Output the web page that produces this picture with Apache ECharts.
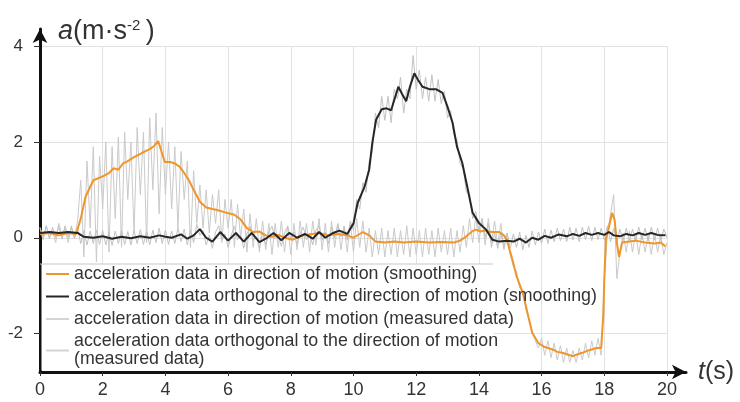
<!DOCTYPE html>
<html>
<head>
<meta charset="utf-8">
<script src="https://cdn.jsdelivr.net/npm/echarts@6/dist/echarts.min.js"></script>
<style>html,body{margin:0;padding:0;background:#fff}#c{width:740px;height:402px}</style>
</head>
<body>
<div id="c"></div>
<script>
// ---- data ----
const seriesNames = [
  'acceleration data in direction of motion (smoothing)',
  'acceleration data orthogonal to the direction of motion (smoothing)',
  'acceleration data in direction of motion (measured data)',
  'acceleration data orthogonal to the direction of motion (measured data)'
];
const xTicks = [0, 2, 4, 6, 8, 10, 12, 14, 16, 18, 20];
const yTicks = [-2, 0, 2, 4];
const sampleStep = 0.1; // measured data sampled every 0.1 s from t = 0

const measuredMotion = [
  0.2,-0.05,0.25,0.0,0.15,-0.1,0.3,0.05,0.2,-0.1,
  0.25,0.0,0.35,1.2,-0.4,1.6,0.2,1.9,-0.5,1.7,
  0.6,2.0,-0.3,1.9,0.4,2.1,-0.2,2.2,0.8,2.0,
  0.1,2.3,0.9,2.2,-0.1,2.5,1.0,2.6,0.5,2.3,
  0.9,2.0,0.6,1.9,0.2,1.8,0.8,1.6,-0.2,1.4,
  0.3,1.1,0.2,1.0,0.1,0.9,0.3,1.0,-0.1,0.8,
  0.2,0.8,-0.2,0.7,0.0,0.6,-0.3,0.5,-0.2,0.4,
  -0.3,0.35,-0.25,0.3,-0.35,0.3,-0.2,0.35,-0.3,0.25,
  -0.35,0.3,-0.25,0.35,-0.2,0.3,-0.3,0.35,-0.15,0.4,
  -0.25,0.3,-0.3,0.35,-0.2,0.3,-0.25,0.25,-0.3,0.3,
  -0.3,0.4,-0.2,0.35,-0.3,0.2,-0.4,0.15,-0.35,0.2,
  -0.4,0.15,-0.35,0.2,-0.4,0.15,-0.35,0.25,-0.4,0.2,
  -0.35,0.15,-0.4,0.2,-0.35,0.15,-0.4,0.2,-0.3,0.15,
  -0.35,0.2,-0.4,0.15,-0.3,0.25,-0.2,0.4,-0.1,0.45,
  -0.1,0.4,-0.15,0.4,-0.1,0.35,-0.15,0.3,-0.25,0.1,
  -0.35,-0.6,-0.7,-1.05,-1.1,-1.5,-1.7,-1.95,-2.15,-2.3,
  -2.1,-2.45,-2.15,-2.5,-2.2,-2.55,-2.25,-2.6,-2.3,-2.6,
  -2.35,-2.6,-2.3,-2.55,-2.2,-2.5,-2.15,-2.45,-2.1,-2.45,
  -0.9,0.1,0.5,0.9,-0.85,-0.3,0.1,-0.3,0.15,-0.3,
  0.1,-0.35,0.1,-0.3,0.05,-0.35,0.1,-0.3,0.05,-0.35,
  -0.1
];

const measuredOrtho = [
  0.22,0.0,0.25,-0.02,0.22,0.0,0.24,-0.03,0.25,0.0,
  0.22,-0.02,0.2,-0.12,0.15,-0.15,0.14,-0.12,0.16,-0.14,
  0.15,-0.15,0.12,-0.16,0.14,-0.12,0.16,-0.14,0.13,-0.15,
  0.15,-0.12,0.17,-0.14,0.14,-0.15,0.16,-0.1,0.2,-0.12,
  0.16,-0.14,0.14,-0.12,0.2,-0.08,0.18,-0.15,0.17,-0.1,
  0.28,0.05,0.15,-0.15,0.05,-0.22,0.12,0.25,-0.05,0.08,
  -0.2,0.05,0.24,-0.04,0.05,-0.22,0.08,0.24,-0.05,0.02,
  -0.22,0.1,-0.15,0.12,0.24,-0.02,0.05,-0.18,0.1,0.24,
  -0.02,0.12,-0.14,0.1,0.22,-0.04,0.1,-0.15,0.15,0.25,
  -0.05,0.12,-0.12,0.22,0.0,0.28,0.02,0.22,-0.05,0.35,
  0.15,0.8,0.6,1.15,0.95,1.6,1.8,2.6,2.3,2.95,
  2.45,2.95,2.4,3.1,2.9,3.35,2.6,3.1,2.9,3.8,
  3.1,3.5,2.9,3.35,2.85,3.4,2.85,3.3,2.8,3.05,
  2.5,2.65,2.15,2.05,1.55,1.45,0.95,0.9,0.4,0.55,
  0.15,0.4,0.0,0.3,-0.2,0.1,-0.22,0.08,-0.2,0.1,
  -0.22,0.08,-0.2,0.12,-0.25,0.05,-0.2,0.14,-0.15,0.12,
  -0.12,0.18,-0.12,0.16,-0.08,0.2,-0.06,0.18,-0.08,0.22,
  -0.05,0.2,-0.08,0.22,-0.04,0.24,-0.06,0.22,-0.04,0.2,
  -0.05,0.25,-0.08,0.2,-0.1,0.18,-0.08,0.2,-0.06,0.18,
  -0.05,0.22,-0.04,0.2,-0.06,0.22,-0.05,0.2,-0.06,0.18,
  0.0
];

const smoothMotion = [
  [0,0.08],[0.3,0.1],[0.6,0.05],[0.9,0.1],[1.15,0.08],[1.3,0.4],[1.45,0.85],[1.7,1.2],
  [2.0,1.28],[2.2,1.35],[2.35,1.45],[2.5,1.42],[2.65,1.55],[2.8,1.6],[3.0,1.68],[3.2,1.75],
  [3.35,1.8],[3.5,1.85],[3.65,1.92],[3.77,2.02],[3.85,1.85],[3.98,1.58],[4.15,1.58],[4.3,1.55],
  [4.46,1.48],[4.6,1.35],[4.75,1.2],[4.9,1.0],[5.1,0.75],[5.3,0.63],[5.5,0.6],[5.65,0.58],
  [5.95,0.52],[6.2,0.48],[6.4,0.38],[6.6,0.2],[6.8,0.12],[7.0,0.13],[7.2,0.05],[7.4,0.02],
  [7.6,0.06],[7.8,0.0],[8.06,-0.04],[8.3,0.03],[8.5,0.06],[8.7,0.08],[8.9,0.1],[9.2,0.05],
  [9.5,0.08],[9.8,0.05],[10.0,0.0],[10.3,0.12],[10.5,0.05],[10.7,-0.08],[11.0,-0.1],[11.3,-0.08],
  [11.6,-0.1],[12.0,-0.08],[12.4,-0.1],[12.8,-0.09],[13.2,-0.1],[13.4,-0.06],[13.6,0.03],[13.8,0.14],
  [13.9,0.17],[14.05,0.13],[14.2,0.15],[14.4,0.12],[14.65,0.12],[14.8,0.05],[14.9,-0.06],[15.0,-0.3],
  [15.07,-0.46],[15.2,-0.8],[15.4,-1.15],[15.55,-1.57],[15.7,-1.98],[15.9,-2.2],[16.1,-2.28],[16.35,-2.33],
  [16.5,-2.38],[16.66,-2.4],[16.85,-2.44],[17.0,-2.47],[17.15,-2.43],[17.3,-2.4],[17.45,-2.36],[17.6,-2.33],
  [17.75,-2.3],[17.9,-2.3],[17.97,-1.6],[18.0,-0.87],[18.05,-0.04],[18.15,0.23],[18.25,0.52],[18.33,0.37],
  [18.4,-0.1],[18.47,-0.4],[18.57,-0.1],[18.8,-0.08],[19.0,-0.06],[19.3,-0.1],[19.6,-0.12],[19.8,-0.1],
  [19.95,-0.18]
];

const smoothOrtho = [
  [0,0.1],[0.3,0.12],[0.6,0.1],[0.9,0.12],[1.2,0.1],[1.4,0.02],[1.7,0.0],[2.0,0.03],
  [2.3,-0.02],[2.6,0.02],[2.9,-0.01],[3.2,0.03],[3.5,0.0],[3.8,0.05],[4.0,0.02],[4.2,0.0],
  [4.5,0.07],[4.7,-0.02],[4.9,0.05],[5.1,0.18],[5.3,0.0],[5.5,-0.08],[5.75,0.12],[6.0,-0.06],
  [6.25,0.1],[6.5,-0.08],[6.75,0.1],[7.0,-0.09],[7.2,-0.02],[7.45,0.1],[7.7,-0.05],[7.95,0.1],
  [8.2,0.0],[8.45,0.08],[8.7,-0.02],[8.9,0.12],[9.1,0.0],[9.35,0.1],[9.55,0.15],[9.8,0.08],
  [10.0,0.3],[10.13,0.72],[10.35,1.06],[10.5,1.42],[10.6,1.98],[10.72,2.46],[10.9,2.68],[11.05,2.7],
  [11.2,2.66],[11.43,3.15],[11.55,3.0],[11.68,2.85],[11.8,3.15],[11.94,3.43],[12.05,3.3],[12.2,3.15],
  [12.42,3.1],[12.63,3.1],[12.84,3.02],[13.0,2.73],[13.16,2.4],[13.3,1.9],[13.47,1.56],[13.63,1.06],
  [13.8,0.52],[14.0,0.31],[14.23,0.17],[14.43,-0.04],[14.65,-0.08],[14.9,-0.06],[15.1,-0.08],[15.3,-0.02],
  [15.5,-0.1],[15.7,0.0],[15.9,-0.04],[16.1,0.04],[16.3,0.0],[16.55,0.07],[16.8,0.03],[17.0,0.08],
  [17.2,0.04],[17.4,0.1],[17.6,0.06],[17.8,0.1],[18.0,0.06],[18.15,0.12],[18.3,0.05],[18.5,0.03],
  [18.7,0.08],[18.9,0.05],[19.1,0.1],[19.3,0.06],[19.5,0.1],[19.7,0.06],[19.95,0.05]
];

// ---- chart ----
const FONT = '"Liberation Sans", Arial, sans-serif';
const toPairs = arr => arr.map((v, i) => [Math.round(i * sampleStep * 10) / 10, v]);

const COLORS = ['#f0952a', '#262626', '#cacaca', '#c2c2c2'];

const chart = echarts.init(document.getElementById('c'), null, {renderer: 'canvas'});
chart.setOption({
  animation: false,
  backgroundColor: '#fff',
  title: {
    text: '{i|a}{n|(m\u00b7s}{s|-2}{n|\u2009)}',
    left: 53, top: 13,
    textStyle: {
      fontWeight: 'normal',
      rich: {
        i: {fontSize: 27, fontStyle: 'italic', fontWeight: 'normal', color: '#333', fontFamily: FONT},
        n: {fontSize: 27, fontWeight: 'normal', color: '#333', fontFamily: FONT},
        s: {fontSize: 15, fontWeight: 'normal', color: '#333', fontFamily: FONT, verticalAlign: 'top'}
      }
    }
  },
  grid: [
    {left: 40, right: 73, top: 46, bottom: 30},
    {left: 40, right: 54, top: 29, bottom: 30}
  ],
  xAxis: [
    {
      gridIndex: 0, type: 'value', min: 0, max: 20, interval: 2,
      axisLine: {show: false, onZero: false},
      axisTick: {show: true, length: 4, lineStyle: {color: '#333'}},
      axisLabel: {fontSize: 18, color: '#333', margin: 9, fontFamily: FONT, customValues: xTicks},
      splitLine: {show: true, lineStyle: {color: '#e2e2e2', width: 1}}
    },
    {
      gridIndex: 1, type: 'value', min: 0, max: 20.6,
      axisLine: {show: true, onZero: false, symbol: ['none', 'arrow'], symbolSize: [11, 14], lineStyle: {color: '#111', width: 3}},
      axisTick: {show: false}, axisLabel: {show: false}, splitLine: {show: false},
      name: '{i|t}{n|(s)}', nameLocation: 'end', nameGap: 12,
      nameTextStyle: {
        rich: {
          i: {fontSize: 25, fontStyle: 'italic', color: '#333', fontFamily: FONT},
          n: {fontSize: 25, color: '#333', fontFamily: FONT}
        }
      }
    }
  ],
  yAxis: [
    {
      gridIndex: 0, type: 'value', min: -2.8, max: 4,
      axisLine: {show: false, onZero: false},
      axisTick: {show: true, length: 6, lineStyle: {color: '#333'}, customValues: yTicks},
      axisLabel: {fontSize: 17, color: '#333', margin: 17, fontFamily: FONT, customValues: yTicks},
      splitLine: {show: true, lineStyle: {color: '#e2e2e2', width: 1}}
    },
    {
      gridIndex: 1, type: 'value', min: -2.8, max: 4.355,
      axisLine: {show: true, onZero: false, symbol: ['none', 'arrow'], symbolSize: [11, 14], lineStyle: {color: '#111', width: 3}},
      axisTick: {show: false}, axisLabel: {show: false}, splitLine: {show: false}
    }
  ],
  legend: {
    orient: 'vertical', left: 46, top: 265, z: 10, padding: 0,
    itemWidth: 23, itemHeight: 2, itemGap: 4.5,
    selectedMode: false,
    data: seriesNames.map((n, i) => ({name: n, icon: 'rect', itemStyle: {color: i >= 2 ? '#d4d4d4' : COLORS[i]}})),
    formatter: name => name === seriesNames[3]
      ? 'acceleration data orthogonal to the direction of motion\n(measured data)' : name,
    textStyle: {fontSize: 17.8, lineHeight: 18, color: '#333', fontFamily: FONT}
  },
  graphic: {
    elements: [
      {type: 'rect', z: 6, shape: {x: 41.5, y: 264, width: 452, height: 106.5}, style: {fill: '#fff'}},
      {type: 'line', z: 6, shape: {x1: 40, y1: 264, x2: 493, y2: 264}, style: {stroke: '#c8c8c8', lineWidth: 1}}
    ]
  },
  series: [
    {
      name: seriesNames[2], type: 'line', xAxisIndex: 0, yAxisIndex: 0, z: 2,
      data: toPairs(measuredMotion), symbol: 'none', color: COLORS[2],
      lineStyle: {color: COLORS[2], width: 1}
    },
    {
      name: seriesNames[3], type: 'line', xAxisIndex: 0, yAxisIndex: 0, z: 2,
      data: toPairs(measuredOrtho), symbol: 'none', color: COLORS[3],
      lineStyle: {color: COLORS[3], width: 1}
    },
    {
      name: seriesNames[0], type: 'line', xAxisIndex: 0, yAxisIndex: 0, z: 3,
      data: smoothMotion, symbol: 'none', color: COLORS[0],
      lineStyle: {color: COLORS[0], width: 2}
    },
    {
      name: seriesNames[1], type: 'line', xAxisIndex: 0, yAxisIndex: 0, z: 4,
      data: smoothOrtho, symbol: 'none', color: COLORS[1],
      lineStyle: {color: COLORS[1], width: 2}
    }
  ]
});
</script>
</body>
</html>
